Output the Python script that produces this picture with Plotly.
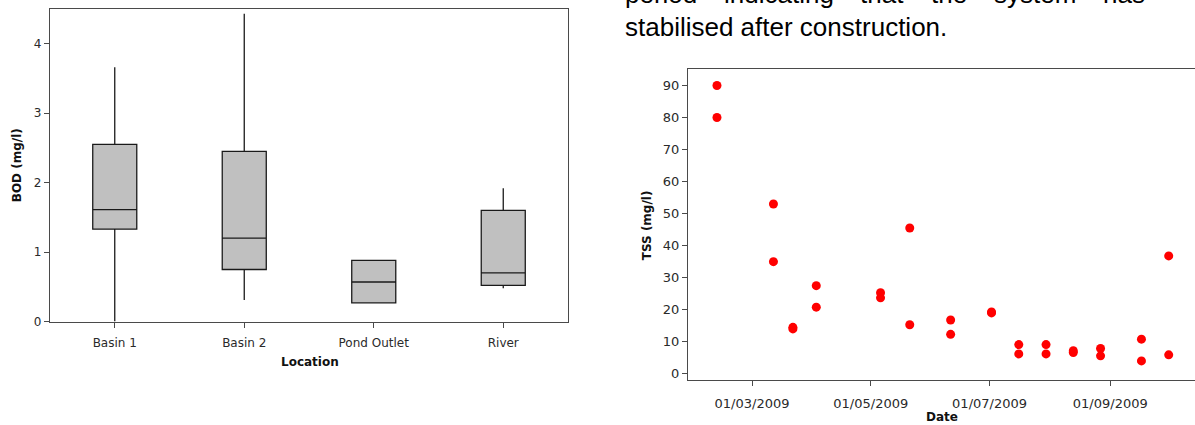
import plotly.graph_objects as go

W, H = 1195, 425

# BOD summary statistics per sampling location (mg/l)
locations = ["Basin 1", "Basin 2", "Pond Outlet", "River"]
bod_low = [0.0, 0.31, 0.27, 0.48]
bod_q1 = [1.33, 0.75, 0.27, 0.52]
bod_median = [1.61, 1.20, 0.57, 0.70]
bod_q3 = [2.55, 2.45, 0.88, 1.60]
bod_high = [3.66, 4.43, 0.88, 1.92]

# TSS samples over time (mg/l)
sample_dates = [
    "2009-02-11", "2009-02-11", "2009-03-12", "2009-03-12", "2009-03-22", "2009-03-22",
    "2009-04-03", "2009-04-03", "2009-05-06", "2009-05-06", "2009-05-21", "2009-05-21",
    "2009-06-11", "2009-06-11", "2009-07-02", "2009-07-02", "2009-07-16", "2009-07-16",
    "2009-07-30", "2009-07-30", "2009-08-13", "2009-08-13", "2009-08-27", "2009-08-27",
    "2009-09-17", "2009-09-17", "2009-10-01", "2009-10-01",
]
tss_values = [
    90, 80, 53, 35, 14.5, 14, 27.5, 20.8, 25.3, 23.7, 45.5, 15.3, 16.8, 12.3,
    19.3, 19.0, 9.1, 6.2, 9.1, 6.2, 7.2, 6.6, 7.9, 5.6, 10.8, 4.0, 36.8, 5.9,
]
date_ticks = ["2009-03-01", "2009-05-01", "2009-07-01", "2009-09-01"]
tss_ticks = [0, 10, 20, 30, 40, 50, 60, 70, 80, 90]

# paragraph text above the scatter panel
para_line1 = ["period", "indicating", "that", "the", "system", "has"]
para_line2 = "stabilised after construction."


def px_x(v):
    return v / W


def px_y(v):
    return 1 - v / H


AXIS_COLOR = "#4a4a4a"
LEFT_TICK_FONT = dict(family="DejaVu Sans", size=12, color="#2a2a2a")
RIGHT_TICK_FONT = dict(family="DejaVu Sans", size=13, color="#2a2a2a")
TITLE_FONT = dict(family="DejaVu Sans", size=12, color="#111111", weight="bold")

fig = go.Figure()

fig.add_trace(go.Box(
    x=locations,
    q1=bod_q1,
    median=bod_median,
    q3=bod_q3,
    lowerfence=bod_low,
    upperfence=bod_high,
    width=0.34,
    whiskerwidth=0,
    fillcolor="#c0c0c0",
    line=dict(color="#1a1a1a", width=1.3),
    boxpoints=False,
    showlegend=False,
    xaxis="x", yaxis="y",
    hoverinfo="skip",
))

fig.add_trace(go.Scatter(
    x=sample_dates,
    y=tss_values,
    mode="markers",
    marker=dict(color="#ff0000", size=9, line=dict(width=0)),
    showlegend=False,
    xaxis="x2", yaxis="y2",
))

common_axis = dict(
    showline=True, linecolor=AXIS_COLOR, linewidth=1.3,
    showgrid=False, zeroline=False,
    ticks="outside", ticklen=5, tickwidth=1, tickcolor=AXIS_COLOR,
)

fig.update_layout(
    width=W, height=H,
    margin=dict(l=0, r=0, t=0, b=0),
    paper_bgcolor="white", plot_bgcolor="white",
    xaxis=dict(
        domain=[px_x(50), px_x(568)],
        type="category",
        range=[-0.5, 3.5],
        mirror=True,
        anchor="y",
        tickfont=LEFT_TICK_FONT,
        ticklabelstandoff=5,
        **common_axis,
    ),
    yaxis=dict(
        domain=[px_y(327), px_y(9)],
        range=[0, 4.5],
        tickvals=[0, 1, 2, 3, 4],
        mirror=True,
        anchor="x",
        tickfont=LEFT_TICK_FONT,
        **common_axis,
    ),
    xaxis2=dict(
        domain=[px_x(688), 1],
        type="date",
        range=["2009-01-27 03:00", "2009-10-14 12:00"],
        tickvals=date_ticks,
        tickformat="%d/%m/%Y",
        mirror=True,
        anchor="y2",
        tickfont=RIGHT_TICK_FONT,
        ticklabelstandoff=7,
        **common_axis,
    ),
    yaxis2=dict(
        domain=[px_y(386), px_y(70)],
        range=[-1.84, 95.2],
        tickvals=tss_ticks,
        mirror=False,
        anchor="x2",
        tickfont=RIGHT_TICK_FONT,
        **common_axis,
    ),
)

annotations = [
    dict(text="BOD (mg/l)", x=px_x(17), y=px_y(168), textangle=-90, font=TITLE_FONT),
    dict(text="Location", x=px_x(310), y=px_y(368), font=TITLE_FONT),
    dict(text="TSS (mg/l)", x=px_x(647), y=px_y(229), textangle=-90, font=TITLE_FONT),
    dict(text="Date", x=px_x(942), y=px_y(424), font=TITLE_FONT),
]
for a in annotations:
    a.update(xref="paper", yref="paper", showarrow=False, xanchor="center", yanchor="middle")

# justified first line: words spread evenly between the left and right margins
PARA_FONT = dict(family="Liberation Sans", size=26, color="#000000")
word_left = [622.7, 722, 858, 929, 992, 1101]
for word, xl in zip(para_line1, word_left):
    annotations.append(dict(
        text=word, x=px_x(xl), y=px_y(-6), xref="paper", yref="paper",
        xanchor="left", yanchor="middle", showarrow=False, font=PARA_FONT,
    ))
annotations.append(dict(
    text=para_line2, x=px_x(622.7), y=px_y(27), xref="paper", yref="paper",
    xanchor="left", yanchor="middle", showarrow=False, font=PARA_FONT,
))

fig.update_layout(annotations=annotations)

fig.write_html("out.html")
